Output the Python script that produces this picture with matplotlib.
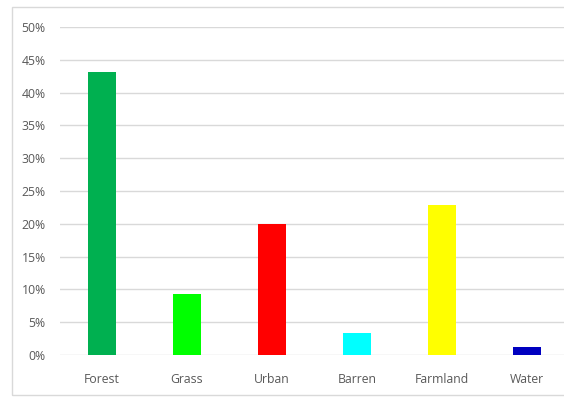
import matplotlib
matplotlib.use("Agg")
import matplotlib.pyplot as plt
from matplotlib.patches import Rectangle
from matplotlib.ticker import FuncFormatter, MultipleLocator

# Land-cover shares (percent)
categories = ["Forest", "Grass", "Urban", "Barren", "Farmland", "Water"]
shares = [43.1, 9.3, 20.0, 3.3, 22.9, 1.2]
bar_colors = ["#00b050", "#00ff00", "#ff0000", "#00ffff", "#ffff00", "#0000c0"]

W, H = 564, 397
fig = plt.figure(figsize=(W / 100, H / 100), dpi=100)
fig.patch.set_facecolor("white")

# Light chart-area frame
fig.patches.append(Rectangle((12 / W, 1 - 395 / H), 1.0, (395 - 7) / H,
                             transform=fig.transFigure, fill=False,
                             edgecolor="#d9d9d9", linewidth=1.0))

left, right = 59.5 / W, 1.0
bottom, top = 1 - 355 / H, 1 - 27 / H
ax = fig.add_axes([left, bottom, right - left, top - bottom])

x = list(range(len(categories)))
ax.bar(x, shares, width=0.32, color=bar_colors, zorder=3)

ax.set_ylim(0, 50)
ax.set_xlim(-0.5, -0.5 + (W - 59.5) / 85.0)
ax.yaxis.set_major_locator(MultipleLocator(5))
ax.yaxis.set_major_formatter(FuncFormatter(lambda v, _: f"{v:.0f}%"))
ax.grid(axis="y", color="#d9d9d9", linewidth=1.0, zorder=0)
ax.set_xticks(x)
ax.set_xticklabels(categories)

for s in ax.spines.values():
    s.set_visible(False)
ax.tick_params(axis="both", length=0, colors="#595959", labelsize=8.8)
ax.tick_params(axis="y", pad=10)
ax.tick_params(axis="x", pad=13)
for lbl in ax.get_xticklabels() + ax.get_yticklabels():
    lbl.set_fontfamily("Open Sans")

fig.savefig("out.png", dpi=100, facecolor="white")
